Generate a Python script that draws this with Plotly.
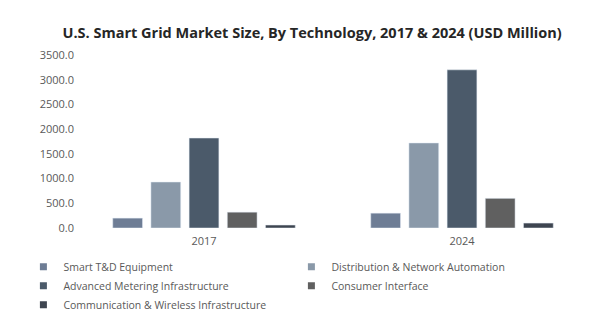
import plotly.graph_objects as go

years = ["2017", "2024"]
series_names = [
    "Smart T&D Equipment",
    "Distribution & Network Automation",
    "Advanced Metering Infrastructure",
    "Consumer Interface",
    "Communication & Wireless Infrastructure",
]
smart_td = [200, 300]
distribution = [930, 1720]
ami = [1820, 3200]
consumer = [320, 600]
communication = [60, 100]
colors = ["#6E7D95", "#8A99A9", "#4B5A6A", "#606060", "#3E4550"]
y_ticks = [0, 500, 1000, 1500, 2000, 2500, 3000, 3500]

values = [smart_td, distribution, ami, consumer, communication]

fig = go.Figure()
for name, vals, col in zip(series_names, values, colors):
    fig.add_trace(go.Bar(x=years, y=vals, name=name, marker_color=col, showlegend=False))
# legend entries with small square markers
for name, col in zip(series_names, colors):
    fig.add_trace(go.Scatter(x=[None], y=[None], mode="markers", name=name,
                             marker=dict(symbol="square", size=7, color=col)))

fig.update_layout(
    width=606, height=331,
    margin=dict(l=75, r=15, t=55, b=103),
    paper_bgcolor="white", plot_bgcolor="white",
    barmode="group", bargap=0.26, bargroupgap=0.22,
    font=dict(family="Open Sans", size=11, color="#595959"),
    title=dict(text="<b>U.S. Smart Grid Market Size, By Technology, 2017 & 2024 (USD Million)</b>",
               x=0.515, xanchor="center", y=0.9, yanchor="middle",
               font=dict(family="Open Sans", size=14.5, color="#262626")),
    xaxis=dict(showgrid=False, showline=False, ticks="", ticklabelstandoff=5,
               tickfont=dict(size=11, color="#595959")),
    yaxis=dict(range=[0, 3500], tickvals=y_ticks, tickformat=".1f", showgrid=False,
               showline=False, zeroline=False, ticks="", tickfont=dict(size=11, color="#595959")),
    legend=dict(orientation="h", x=-0.1, xanchor="left", y=-0.14, yanchor="top",
                entrywidth=223, entrywidthmode="pixels", tracegroupgap=0,
                itemwidth=30, font=dict(size=10.5, color="#595959")),
)

fig.write_html("out.html")
